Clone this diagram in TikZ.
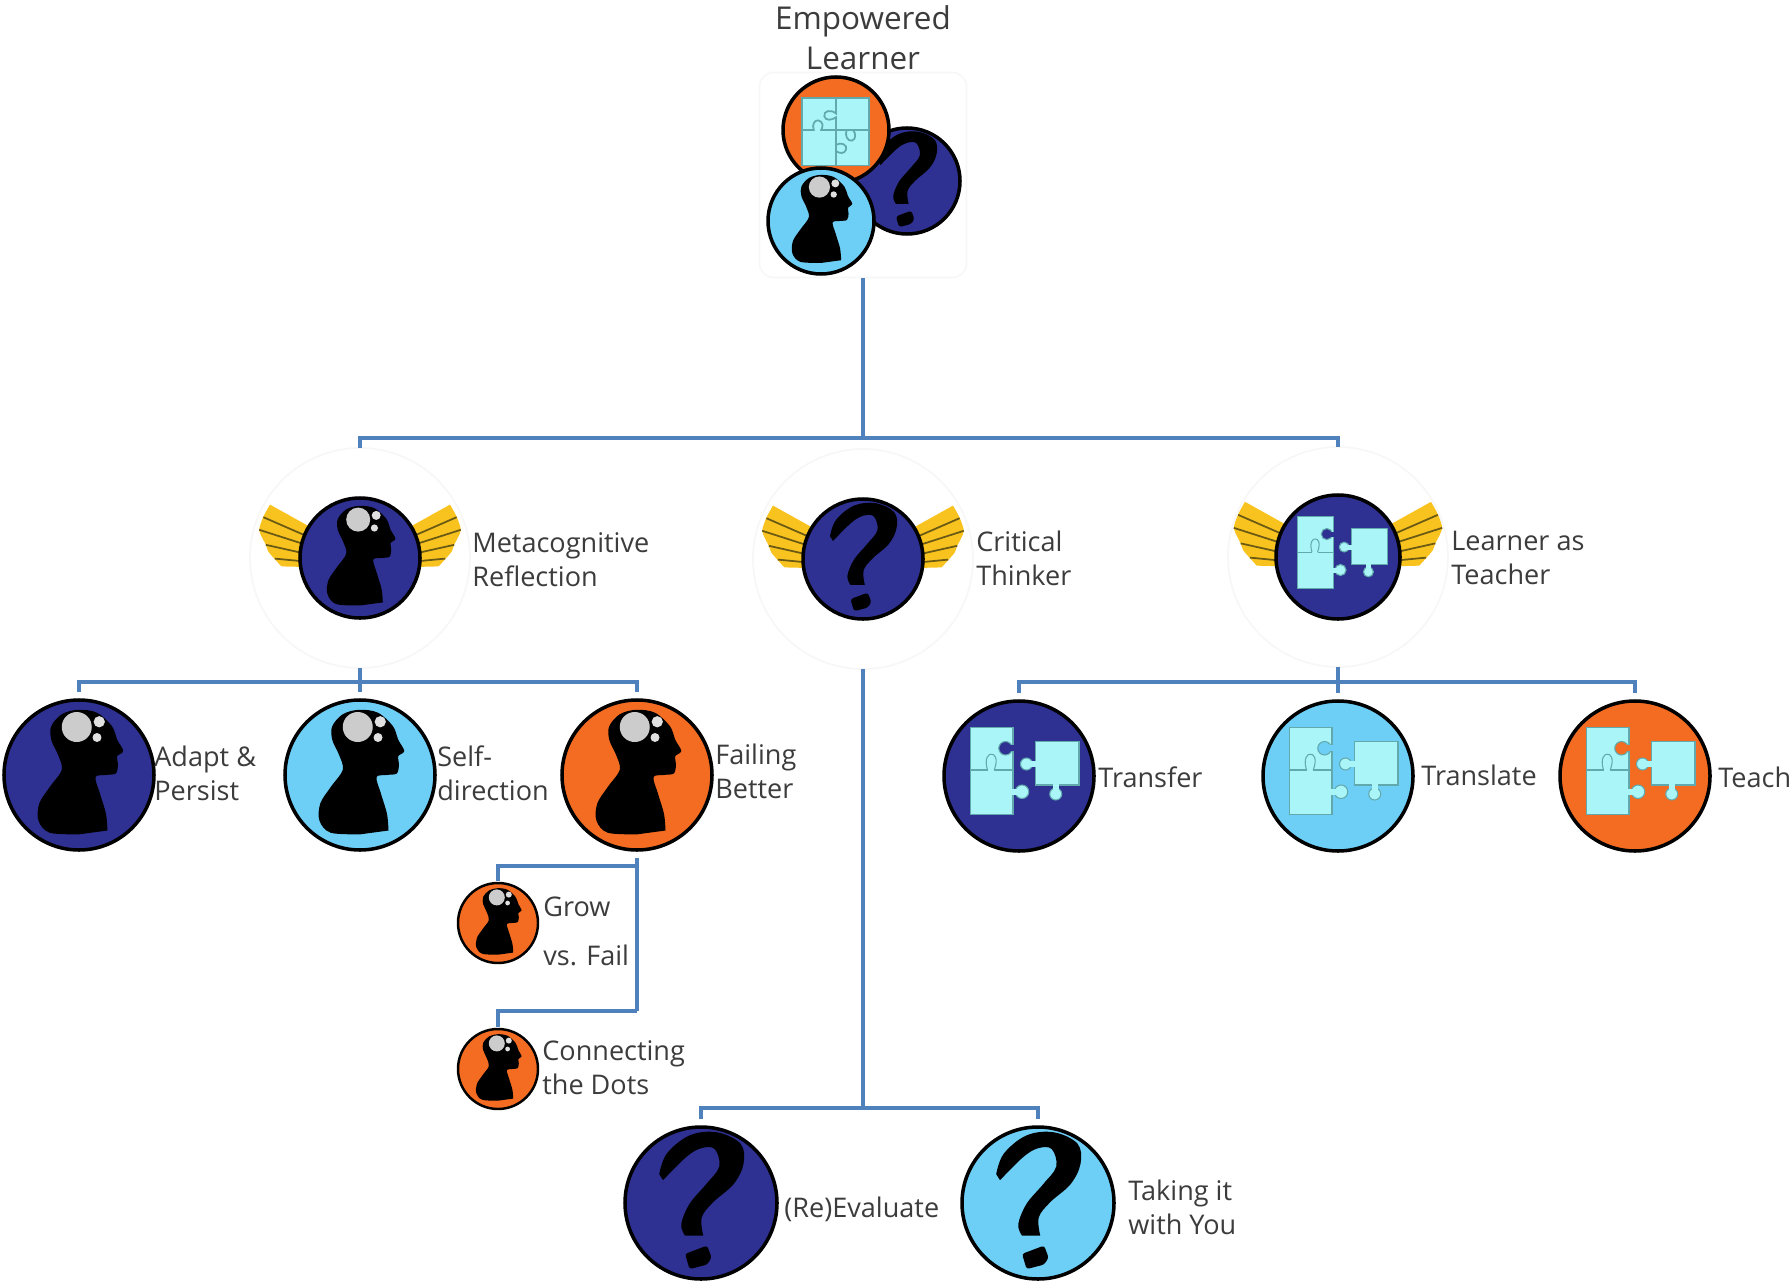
\documentclass[tikz,border=0pt]{standalone}
\usepackage{fontspec}
\setmainfont{Open Sans}
\usepackage{tikz}
\definecolor{navy}{HTML}{2E3192}
\definecolor{ember}{HTML}{F36C21}
\definecolor{sky}{HTML}{6DCFF6}
\definecolor{tile}{HTML}{A9F5F7}
\definecolor{seam}{HTML}{62A9AE}
\definecolor{plume}{HTML}{F9C31F}
\definecolor{stripe}{HTML}{6B5A14}
\definecolor{linkblue}{HTML}{4F81BD}
\definecolor{ink}{HTML}{3C3C3C}
\tikzset{
	badge/.style={circle,draw=black,line width=2pt,inner sep=0pt,outer sep=0pt},
	halo/.style={circle,draw=black!3,line width=1pt,inner sep=0pt,outer sep=0pt,minimum size=44mm},
	link/.style={draw=linkblue,line width=2.3pt,line cap=butt,line join=miter},
	tap/.style={link,shorten <=4.5pt,shorten >=4.5pt},
	tag/.style={anchor=west,inner sep=0pt,align=left,text=ink,font=\fontsize{15.4}{19.3}\selectfont},
	pics/head/.style={code={
		\fill[black] plot[smooth,tension=0.55] coordinates {(0.38,-0.74) (0.36,-0.52) (0.28,-0.25) (0.22,-0.03) (0.35,0) (0.49,0.02) (0.52,0.14) (0.51,0.25) (0.59,0.32) (0.51,0.47) (0.44,0.65) (0.24,0.83) (-0.01,0.87) (-0.23,0.81) (-0.37,0.65) (-0.37,0.47) (-0.28,0.27) (-0.23,0.07) (-0.39,-0.16) (-0.53,-0.38) (-0.54,-0.61) (-0.39,-0.77) (0.01,-0.79)} -- cycle;
		\fill[black!20] (-0.03,0.64) circle (0.2);
		\fill[black!12] (0.27,0.71) circle (0.075);
		\fill[black!12] (0.24,0.5) circle (0.06);
	}},
	pics/query/.style={code={
		\fill[black] plot[smooth,tension=0.6] coordinates {(-0.55,0.38) (-0.45,0.65) (-0.15,0.89) (0.21,0.93) (0.52,0.78) (0.56,0.52) (0.43,0.25) (0.16,0.01) (0.01,-0.19) (0.03,-0.43)} -- plot[smooth,tension=0.6] coordinates {(-0.21,-0.43) (-0.26,-0.28) (-0.15,-0.01) (0.07,0.25) (0.24,0.48) (0.18,0.71) (0,0.72) (-0.2,0.6) (-0.5,0.3)} -- cycle;
		\fill[black,rounded corners=1.5pt] (-0.21,-0.67) -- (0.08,-0.56) -- (0.14,-0.72) -- (0.08,-0.81) -- (-0.15,-0.87) -- cycle;
	}},
	pics/puzzle/.style={code={
		\filldraw[fill=tile,draw=seam,line width=0.6pt] (-0.65,-0.51) rectangle (-0.08,0.65);
		\filldraw[fill=tile,draw=seam,line width=0.6pt] (0.22,-0.12) rectangle (0.8,0.46);
		\filldraw[fill=#1,draw=seam,line width=0.6pt] (-0.18,0.37) circle (0.09);
		\fill[#1] (-0.14,0.33) rectangle (-0.07,0.41);
		\draw[seam,line width=0.6pt] (-0.65,0.08) -- (-0.42,0.08) (-0.33,0.08) -- (-0.08,0.08);
		\draw[seam,line width=0.6pt] (-0.42,0.08) .. controls (-0.47,0.24) and (-0.4,0.3) .. (-0.37,0.29) .. controls (-0.33,0.3) and (-0.27,0.24) .. (-0.33,0.08);
		\filldraw[fill=tile,draw=seam,line width=0.6pt] (0.04,-0.21) circle (0.09);
		\fill[tile] (-0.09,-0.25) rectangle (0,-0.17);
		\filldraw[fill=tile,draw=seam,line width=0.6pt] (0.1,0.16) circle (0.08);
		\fill[tile] (0.14,0.12) rectangle (0.23,0.2);
		\filldraw[fill=tile,draw=seam,line width=0.6pt] (0.49,-0.24) circle (0.08);
		\fill[tile] (0.45,-0.2) rectangle (0.53,-0.11);
	}},
	pics/tiles/.style={code={
		\fill[tile] (-0.64,-0.67) rectangle (0.62,0.6);
		\draw[seam,line width=1pt] (-0.64,-0.67) rectangle (0.62,0.6);
		\draw[seam,line width=1pt] (0,0.6) -- (0,0.31) .. controls (-0.1,0.4) and (-0.24,0.36) .. (-0.22,0.26) .. controls (-0.2,0.17) and (-0.08,0.18) .. (0,0.24) -- (0,-0.67);
		\draw[seam,line width=1pt] (-0.64,0) -- (-0.42,0) .. controls (-0.46,0.1) and (-0.4,0.2) .. (-0.33,0.18) .. controls (-0.24,0.16) and (-0.24,0.06) .. (-0.28,0) -- (0.62,0);
		\draw[seam,line width=1pt] (0.2,0) .. controls (0.16,-0.1) and (0.22,-0.22) .. (0.3,-0.2) .. controls (0.38,-0.18) and (0.38,-0.06) .. (0.32,0);
		\draw[seam,line width=1pt] (0,-0.28) .. controls (0.1,-0.22) and (0.22,-0.28) .. (0.19,-0.37) .. controls (0.16,-0.46) and (0.06,-0.44) .. (0,-0.4);
	}},
	pics/wing/.style={code={
		\fill[plume] plot[smooth,tension=0.4] coordinates {(-1.5,0.89) (-1.61,0.69) (-1.68,0.46) (-1.57,0.22) (-1.53,0.11) (-1.42,-0.02) (-1.31,-0.14)} -- (-0.9,-0.15) -- (-0.8,0.5) -- cycle;
		\draw[stripe,line width=1pt] (-1.61,0.68) -- (-0.9,0.37);
		\draw[stripe,line width=1pt] (-1.68,0.47) -- (-0.9,0.22);
		\draw[stripe,line width=1pt] (-1.57,0.22) -- (-0.9,0.07);
		\draw[stripe,line width=1pt] (-1.42,-0.01) -- (-0.9,-0.06);
	}},
}
\begin{document}
\begin{tikzpicture}[x=0.2mm,y=0.2mm]
	\useasboundingbox (0,0) rectangle (1792,-1282);
	% top icon
	\node[draw=black!3,line width=1pt,rounded corners=8pt,inner sep=0pt,minimum width=41.4mm,minimum height=41mm] (rootbox)at(863,-175) {};
	\node[badge,fill=navy,minimum size=21.2mm] (rootask)at(907,-181) {};
	\pic[scale=53] at (907,-181) {query};
	\node[badge,fill=ember,minimum size=21.2mm] (rootfit)at(836,-130) {};
	\pic[scale=53] at (836,-130) {tiles};
	\node[badge,fill=sky,minimum size=21.2mm] (rootmind)at(821,-221) {};
	\pic[scale=53] at (821,-221) {head};
	\node[tag,anchor=center,align=center,font=\fontsize{17.9}{22.7}\selectfont] (troot)at(863,-38) {Empowered\\Learner};
	% second row
	\node[halo] (metahalo)at(360,-558) {};
	\node[halo] (crithalo)at(863,-559) {};
	\node[halo] (learnhalo)at(1338,-557) {};
	\pic[scale=60] at (360,-558) {wing};
	\pic[scale=60,xscale=-1] at (360,-558) {wing};
	\pic[scale=60] at (863,-559) {wing};
	\pic[scale=60,xscale=-1] at (863,-559) {wing};
	\pic[scale=62] at (1338,-557) {wing};
	\pic[scale=62,xscale=-1] at (1338,-557) {wing};
	\node[badge,fill=navy,minimum size=24mm] (meta)at(360,-558) {};
	\pic[scale=60] at (360,-558) {head};
	\node[badge,fill=navy,minimum size=24mm] (crit)at(863,-559) {};
	\pic[scale=60] at (863,-559) {query};
	\node[badge,fill=navy,minimum size=24.8mm] (learn)at(1338,-557) {};
	\pic[scale=62] at (1338,-557) {puzzle=navy};
	\node[tag] (tmeta)at(472,-560) {Metacognitive\\Reflection};
	\node[tag] (tcrit)at(976,-558) {Critical\\Thinker};
	\node[tag] (tlearn)at(1451,-558) {Learner as\\Teacher};
	% third row
	\node[badge,fill=navy,minimum size=30mm] (adapt)at(79,-775) {};
	\pic[scale=75] at (79,-775) {head};
	\node[badge,fill=sky,minimum size=30mm] (self)at(360,-775) {};
	\pic[scale=75] at (360,-775) {head};
	\node[badge,fill=ember,minimum size=30mm] (fail)at(637,-775) {};
	\pic[scale=75] at (637,-775) {head};
	\node[badge,fill=navy,minimum size=30mm] (transfer)at(1019,-776) {};
	\pic[scale=75] at (1019,-776) {puzzle=navy};
	\node[badge,fill=sky,minimum size=30mm] (translate)at(1338,-776) {};
	\pic[scale=75] at (1338,-776) {puzzle=sky};
	\node[badge,fill=ember,minimum size=30mm] (teach)at(1635,-776) {};
	\pic[scale=75] at (1635,-776) {puzzle=ember};
	\node[tag] (tadapt)at(154,-773) {Adapt \&\\Persist};
	\node[tag] (tself)at(437,-773) {Self-\\direction};
	\node[tag] (tfail)at(715,-771) {Failing\\Better};
	\node[tag] (ttransfer)at(1098,-777) {Transfer};
	\node[tag] (ttranslate)at(1421,-775) {Translate};
	\node[tag] (tteach)at(1718,-777) {Teach};
	% small ones
	\node[badge,fill=ember,line width=1.4pt,minimum size=16mm] (grow)at(498,-923) {};
	\pic[scale=40] at (498,-923) {head};
	\node[badge,fill=ember,line width=1.4pt,minimum size=16mm] (connect)at(498,-1069) {};
	\pic[scale=40] at (498,-1069) {head};
	\node[tag] (tgrow)at(543,-907) {Grow};
	\node[tag] (tvs)at(543,-955) {vs. Fail};
	\node[tag] (tconnect)at(542,-1068) {Connecting\\the Dots};
	% bottom row
	\node[badge,fill=navy,minimum size=30.4mm] (evaluate)at(701,-1203) {};
	\pic[scale=76] at (701,-1203) {query};
	\node[badge,fill=sky,minimum size=30.4mm] (taking)at(1038,-1203) {};
	\pic[scale=76] at (1038,-1203) {query};
	\node[tag] (tevaluate)at(784,-1209) {(Re)Evaluate};
	\node[tag] (ttaking)at(1128,-1207) {Taking it\\with You};
	% junctions
	\coordinate (topbar)at(863,-438);
	\coordinate (metabar)at(360,-682);
	\coordinate (learnbar)at(1338,-682);
	\coordinate (growbar)at(637,-866);
	\coordinate (connectbar)at(637,-1011);
	\coordinate (evalbar)at(863,-1108);
	% connectors
	\draw[link] (rootbox.south) -- (topbar);
	\draw[link] (metahalo.north) |- (topbar) -| (learnhalo.north);
	\draw[link,shorten >=4.5pt] (metahalo.south) -- (self.north);
	\draw[tap] (adapt.north) |- (metabar) -| (fail.north);
	\draw[link,shorten >=4.5pt] (learnhalo.south) -- (translate.north);
	\draw[tap] (transfer.north) |- (learnbar) -| (teach.north);
	\draw[link,shorten <=4.5pt] (fail.south) -- (connectbar);
	\draw[link,shorten >=1pt] (growbar) -| (grow.north);
	\draw[link,shorten >=1pt] (connectbar) -| (connect.north);
	\draw[link] (crithalo.south) -- (evalbar);
	\draw[tap] (evaluate.north) |- (evalbar) -| (taking.north);
\end{tikzpicture}
\end{document}
